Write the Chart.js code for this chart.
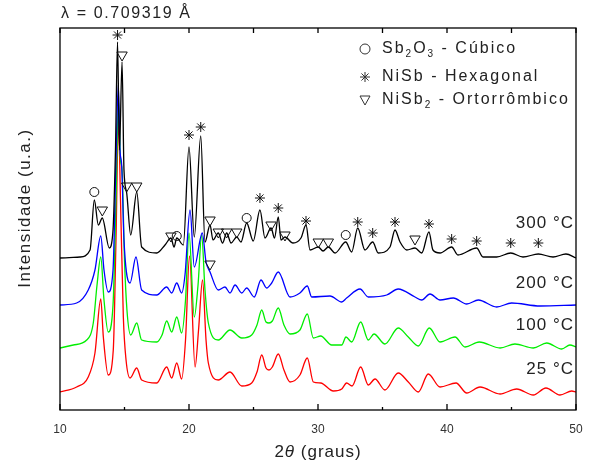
<!DOCTYPE html>
<html>
<head>
<meta charset="utf-8">
<script src="https://cdn.jsdelivr.net/npm/chart.js@4.4.1/dist/chart.umd.min.js"></script>
<style>
  body { margin: 0; background: #fff; }
  #wrap { width: 594px; height: 467px; }
</style>
</head>
<body>
<div id="wrap"><canvas id="xrdChart"></canvas></div>
<script>
// 2theta (deg) and offset intensity (a.u.) for each annealing temperature
const theta300 = [10.00, 11.55, 12.33, 12.66, 12.97, 13.28, 13.82, 14.11, 14.30, 14.46, 14.61, 14.81, 14.96, 15.17, 15.48, 15.95, 16.33, 17.50, 18.14, 18.60, 18.84, 19.05, 19.56, 20.00, 20.41, 20.91, 21.24, 21.63, 21.86, 22.27, 22.60, 22.92, 23.26, 23.70, 24.03, 24.47, 24.98, 25.50, 25.89, 26.36, 26.63, 26.92, 27.13, 27.44, 28.06, 28.68, 29.07, 29.38, 30.02, 30.39, 30.80, 31.32, 32.15, 32.61, 33.08, 33.64, 34.24, 34.67, 35.58, 35.97, 36.36, 36.88, 37.52, 38.04, 38.60, 38.91, 39.46, 40.36, 40.85, 42.30, 42.79, 43.85, 44.94, 45.89, 47.08, 48.22, 49.22, 50.00];
const int300 = [152, 153, 160, 210, 185, 192, 162, 180, 260, 368, 260, 348, 240, 217, 175, 218, 163, 157, 165, 172, 163, 172, 165, 263, 173, 274, 168, 185, 170, 177, 167, 177, 167, 173, 168, 187, 169, 200, 172, 182, 172, 193, 170, 173, 167, 172, 185, 160, 163, 159, 163, 157, 168, 158, 182, 160, 168, 157, 163, 180, 168, 160, 162, 157, 178, 160, 157, 163, 155, 162, 153, 153, 157, 153, 156, 153, 156, 152];

const theta200 = [10.00, 11.29, 12.19, 12.71, 13.16, 13.41, 13.74, 14.11, 14.34, 14.52, 14.65, 14.78, 14.96, 15.43, 15.89, 16.33, 17.50, 18.27, 18.66, 19.05, 19.43, 19.69, 20.08, 20.41, 21.03, 21.32, 21.63, 22.27, 22.79, 23.18, 23.57, 24.09, 24.47, 25.06, 25.58, 26.02, 26.41, 26.92, 27.83, 28.60, 29.17, 29.51, 30.93, 31.84, 32.22, 33.26, 33.90, 35.33, 36.22, 37.52, 38.04, 38.68, 39.46, 40.49, 41.53, 42.43, 43.85, 45.01, 47.21, 50.00];
const int200 = [105, 107, 120, 140, 174, 140, 118, 140, 250, 325, 260, 245, 170, 127, 153, 120, 115, 123, 117, 127, 117, 135, 200, 143, 177, 148, 138, 120, 123, 117, 125, 117, 122, 113, 130, 122, 127, 138, 113, 117, 124, 113, 114, 108, 112, 121, 113, 115, 121, 113, 110, 116, 110, 112, 106, 110, 103, 107, 104, 105];

const theta100 = [10.00, 11.03, 12.07, 12.58, 12.87, 13.16, 13.41, 13.74, 14.11, 14.34, 14.53, 14.69, 14.81, 15.00, 15.19, 15.48, 15.95, 16.33, 17.50, 17.91, 18.27, 18.66, 19.05, 19.43, 19.73, 20.00, 20.41, 20.70, 20.98, 21.24, 21.50, 22.27, 23.18, 24.09, 24.86, 25.27, 25.64, 25.97, 26.20, 26.46, 26.92, 27.36, 27.83, 28.60, 29.17, 29.64, 30.21, 31.06, 31.84, 32.17, 32.61, 33.31, 33.90, 34.34, 35.19, 36.22, 37.00, 37.78, 38.63, 39.46, 40.62, 41.40, 42.50, 44.11, 45.27, 46.69, 47.73, 48.89, 49.53, 50.00];
const int100 = [62, 65, 70, 87, 125, 153, 110, 78, 105, 210, 310, 250, 240, 150, 100, 75, 87, 70, 68, 75, 89, 78, 93, 77, 110, 177, 93, 125, 175, 120, 87, 70, 80, 72, 75, 85, 100, 88, 87, 89, 102, 85, 76, 80, 96, 72, 74, 65, 65, 73, 68, 88, 70, 76, 66, 82, 73, 64, 82, 68, 73, 63, 68, 62, 66, 62, 67, 61, 65, 63];

const theta25 = [10.00, 11.29, 12.19, 12.71, 13.16, 13.36, 13.74, 14.13, 14.34, 14.53, 14.69, 14.91, 15.12, 15.43, 15.95, 16.33, 17.50, 18.27, 18.66, 19.05, 19.43, 19.73, 20.04, 20.47, 20.74, 21.05, 21.32, 21.50, 22.27, 23.18, 24.09, 24.86, 25.27, 25.64, 25.97, 26.20, 26.46, 26.92, 27.36, 27.83, 28.60, 29.17, 29.64, 30.21, 31.19, 31.84, 32.22, 32.64, 33.31, 33.90, 34.42, 35.19, 36.22, 37.00, 37.78, 38.55, 39.46, 40.70, 41.53, 42.56, 44.11, 45.40, 46.69, 47.67, 48.76, 49.67, 50.00];
const int25 = [18, 23, 33, 57, 111, 73, 35, 60, 170, 290, 210, 93, 50, 32, 42, 30, 27, 43, 32, 47, 31, 70, 154, 43, 80, 130, 70, 47, 30, 38, 24, 27, 38, 55, 42, 40, 43, 56, 40, 28, 35, 52, 28, 27, 19, 21, 27, 24, 43, 25, 31, 20, 37, 28, 18, 36, 23, 27, 17, 23, 16, 21, 15, 22, 15, 19, 18];

// phase identification marks
const sb2o3Theta = [12.66, 19.05, 24.47, 32.15];
const sb2o3Int = [218, 174, 192, 175];
const nisbTheta = [14.46, 20.00, 20.91, 25.50, 26.92, 29.07, 33.08, 34.24, 35.97, 38.60, 40.36, 42.30, 44.94, 47.08];
const nisbInt = [375, 275, 283, 212, 202, 189, 188, 177, 188, 186, 171, 169, 167, 167];
const nisb2Theta = [13.28, 14.81, 15.17, 15.95, 18.60, 21.63, 22.27, 22.92, 23.70, 26.36, 27.44, 30.02, 30.80, 37.52, 21.63];
const nisb2Int = [200, 355, 224, 224, 174, 190, 178, 178, 178, 185, 175, 168, 168, 171, 146];

const tempLabels = ['300 °C', '200 °C', '100 °C', '25 °C'];
const xMajor = [10, 20, 30, 40, 50];
const xMinor = [15, 25, 35, 45];

const FONT = '"Liberation Sans", Arial, sans-serif';
const INK = '#222';

function pairs(xs, ys) {
    return xs.map((v, i) => ({ x: v, y: ys[i] }));
}

// text with subscript pieces: [[text, isSub], ...]
function drawRich(ctx, parts, x, y, size) {
    let cx = x;
    parts.forEach(([t, sub]) => {
        ctx.font = (sub ? Math.round(size * 0.6) : size) + 'px ' + FONT;
        ctx.fillText(t, cx, sub ? y + size * 0.32 : y);
        cx += ctx.measureText(t).width;
    });
}

function drawSymbol(ctx, kind, x, y) {
    ctx.beginPath();
    if (kind === 'circle') {
        ctx.arc(x, y, 5, 0, Math.PI * 2);
    } else if (kind === 'star') {
        const r = 5, d = r * Math.SQRT1_2;
        ctx.moveTo(x - r, y); ctx.lineTo(x + r, y);
        ctx.moveTo(x, y - r); ctx.lineTo(x, y + r);
        ctx.moveTo(x - d, y - d); ctx.lineTo(x + d, y + d);
        ctx.moveTo(x - d, y + d); ctx.lineTo(x + d, y - d);
    } else {
        ctx.moveTo(x - 5, y - 4); ctx.lineTo(x + 5, y - 4); ctx.lineTo(x, y + 5); ctx.closePath();
    }
    ctx.stroke();
}

const framePlugin = {
    id: 'frame',
    afterDraw(chart) {
        const { ctx, chartArea: a, scales } = chart;
        const x = scales.x, y = scales.y;
        ctx.save();

        // box and inward ticks
        ctx.strokeStyle = '#000';
        ctx.lineWidth = 1.3;
        ctx.strokeRect(a.left, a.top, a.right - a.left, a.bottom - a.top);
        ctx.beginPath();
        xMajor.forEach(v => {
            const p = x.getPixelForValue(v);
            ctx.moveTo(p, a.bottom); ctx.lineTo(p, a.bottom - 6);
            ctx.moveTo(p, a.top); ctx.lineTo(p, a.top + 5);
        });
        xMinor.forEach(v => {
            const p = x.getPixelForValue(v);
            ctx.moveTo(p, a.bottom); ctx.lineTo(p, a.bottom - 3);
            ctx.moveTo(p, a.top); ctx.lineTo(p, a.top + 5);
        });
        ctx.stroke();

        ctx.fillStyle = INK;
        ctx.textBaseline = 'middle';

        // wavelength note
        ctx.letterSpacing = '1.6px';
        ctx.font = '16px ' + FONT;
        ctx.textAlign = 'left';
        ctx.fillText('λ = 0.709319 Å', a.left + 1, 14);

        // temperature labels
        ctx.letterSpacing = '1px';
        const levels = [187, 127, 85, 41];
        ctx.font = '17px ' + FONT;
        ctx.textAlign = 'right';
        tempLabels.forEach((t, i) => ctx.fillText(t, a.right - 2, y.getPixelForValue(levels[i])));

        // y title
        ctx.save();
        ctx.translate(25, 208);
        ctx.rotate(-Math.PI / 2);
        ctx.textAlign = 'center';
        ctx.letterSpacing = '1.5px';
        ctx.fillText('Intensidade (u.a.)', 0, 0);
        ctx.restore();

        // x title with italic theta
        ctx.textAlign = 'left';
        ctx.font = '17px ' + FONT;
        const w1 = ctx.measureText('2').width, w3 = ctx.measureText(' (graus)').width;
        ctx.font = 'italic 17px ' + FONT;
        const w2 = ctx.measureText('θ').width;
        let tx = (a.left + a.right) / 2 - (w1 + w2 + w3) / 2;
        ctx.font = '17px ' + FONT;
        ctx.fillText('2', tx, 452);
        ctx.font = 'italic 17px ' + FONT;
        ctx.fillText('θ', tx + w1, 452);
        ctx.font = '17px ' + FONT;
        ctx.fillText(' (graus)', tx + w1 + w2, 452);

        // phase legend
        ctx.letterSpacing = '2px';
        ctx.strokeStyle = '#333';
        ctx.lineWidth = 1;
        const rows = [
            ['circle', [['Sb', 0], ['2', 1], ['O', 0], ['3', 1], [' - Cúbico', 0]]],
            ['star', [['NiSb - Hexagonal', 0]]],
            ['tri', [['NiSb', 0], ['2', 1], [' - Ortorrômbico', 0]]]
        ];
        const rowY = [49, 77, 100];
        rows.forEach(([kind, parts], i) => {
            drawSymbol(ctx, kind, 365, rowY[i]);
            drawRich(ctx, parts, 382, rowY[i], 16);
        });
        ctx.restore();
    }
};

const markerBase = {
    type: 'scatter',
    showLine: false,
    borderColor: '#111',
    backgroundColor: 'rgba(0,0,0,0)',
    borderWidth: 1,
    pointHoverRadius: 0
};
const lineBase = {
    type: 'line',
    pointRadius: 0,
    borderWidth: 1.3,
    cubicInterpolationMode: 'monotone',
    fill: false
};

new Chart(document.getElementById('xrdChart'), {
    type: 'line',
    data: {
        datasets: [
            { ...markerBase, label: 'Sb2O3', data: pairs(sb2o3Theta, sb2o3Int), pointStyle: 'circle', pointRadius: 4.5 },
            { ...markerBase, label: 'NiSb', data: pairs(nisbTheta, nisbInt), pointStyle: 'star', pointRadius: 5 },
            { ...markerBase, label: 'NiSb2', data: pairs(nisb2Theta, nisb2Int), pointStyle: 'triangle', pointRadius: 6, rotation: 180 },
            { ...lineBase, label: '300 °C', data: pairs(theta300, int300), borderColor: '#000000' },
            { ...lineBase, label: '200 °C', data: pairs(theta200, int200), borderColor: '#0000ff' },
            { ...lineBase, label: '100 °C', data: pairs(theta100, int100), borderColor: '#00ee00' },
            { ...lineBase, label: '25 °C', data: pairs(theta25, int25), borderColor: '#ff0000' }
        ]
    },
    options: {
        responsive: true,
        maintainAspectRatio: false,
        animation: false,
        layout: { padding: { top: 28, right: 18, left: 0, bottom: 0 } },
        plugins: {
            legend: { display: false },
            tooltip: { enabled: false }
        },
        scales: {
            x: {
                type: 'linear',
                min: 10,
                max: 50,
                ticks: { stepSize: 10, color: '#333', font: { family: FONT, size: 12 }, padding: 12, maxRotation: 0 },
                grid: { display: false, drawTicks: false },
                border: { display: false },
                afterFit(s) { s.height = 57; s.paddingLeft = 0; s.paddingRight = 0; }
            },
            y: {
                min: 0,
                max: 382,
                ticks: { display: false },
                grid: { display: false, drawTicks: false },
                border: { display: false },
                afterFit(s) { s.width = 60; s.paddingTop = 0; s.paddingBottom = 0; }
            }
        }
    },
    plugins: [framePlugin]
});
</script>
</body>
</html>
